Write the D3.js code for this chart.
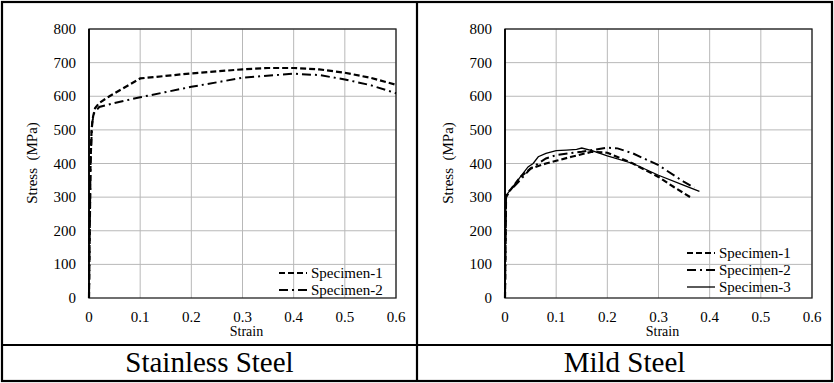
<!DOCTYPE html>
<html>
<head>
<meta charset="utf-8">
<script src="https://cdn.jsdelivr.net/npm/d3@7"></script>
<style>
  html, body { margin: 0; padding: 0; background: #fff; }
  svg { display: block; }
  svg text { font-family: "Liberation Serif", "Times New Roman", serif; }
</style>
</head>
<body>
<svg id="chart" width="834" height="383"></svg>
<script>
// ticks shared by both panels
const xTicks = [0, 0.1, 0.2, 0.3, 0.4, 0.5, 0.6];
const yTicks = [0, 100, 200, 300, 400, 500, 600, 700, 800];

// Stainless steel (strain, stress MPa)
const ssStrain1 = [0, 0.003, 0.005, 0.008, 0.012, 0.02, 0.04, 0.1, 0.2, 0.3, 0.35, 0.4, 0.45, 0.5, 0.55, 0.6];
const ssStress1 = [0, 400, 500, 540, 565, 580, 600, 653, 668, 680, 684, 684, 680, 670, 655, 634];
const ssStrain2 = [0, 0.003, 0.006, 0.01, 0.02, 0.05, 0.1, 0.2, 0.3, 0.4, 0.45, 0.5, 0.55, 0.6];
const ssStress2 = [0, 400, 520, 550, 568, 580, 597, 628, 655, 667, 663, 650, 633, 609];

// Mild steel
const msStrain1 = [0, 0.002, 0.01, 0.03, 0.05, 0.08, 0.1, 0.13, 0.17, 0.2, 0.25, 0.3, 0.33, 0.365];
const msStress1 = [0, 300, 320, 360, 385, 400, 408, 420, 435, 432, 400, 360, 330, 297];
const msStrain2 = [0, 0.002, 0.02, 0.05, 0.08, 0.1, 0.15, 0.2, 0.22, 0.25, 0.3, 0.35, 0.37];
const msStress2 = [0, 310, 335, 385, 415, 425, 435, 447, 445, 430, 395, 345, 328];
const msStrain3 = [0, 0.002, 0.01, 0.03, 0.045, 0.055, 0.065, 0.08, 0.1, 0.12, 0.14, 0.15, 0.17, 0.2, 0.25, 0.3, 0.35, 0.38];
const msStress3 = [0, 305, 320, 360, 390, 400, 420, 430, 438, 440, 442, 446, 438, 423, 400, 365, 335, 317];

const seriesNames = ['Specimen-1', 'Specimen-2', 'Specimen-3'];
const panelTitles = ['Stainless Steel', 'Mild Steel'];

const dashes = ['6,3', '9,4,2,4', null];
const widths = [2.2, 2, 1.3];

const zip = (xs, ys) => xs.map((x, i) => ({ x, y: ys[i] }));

const panels = [
  { title: panelTitles[0], left: 89, series: [zip(ssStrain1, ssStress1), zip(ssStrain2, ssStress2)], legendTop: 273, legendX: 279 },
  { title: panelTitles[1], left: 505, series: [zip(msStrain1, msStress1), zip(msStrain2, msStress2), zip(msStrain3, msStress3)], legendTop: 253, legendX: 687 }
];

const svg = d3.select('#chart');
const plotW = 307, plotTop = 29, plotBottom = 298;

panels.forEach((p, pi) => {
  const x = d3.scaleLinear().domain([0, 0.6]).range([p.left, p.left + plotW]);
  const y = d3.scaleLinear().domain([0, 800]).range([plotBottom, plotTop]);
  const g = svg.append('g');

  // grid
  g.append('g').selectAll('line').data(xTicks.slice(1)).join('line')
    .attr('x1', d => x(d)).attr('x2', d => x(d)).attr('y1', plotTop).attr('y2', plotBottom)
    .attr('stroke', '#b8b8b8').attr('stroke-width', 1);
  g.append('g').selectAll('line').data(yTicks.slice(1)).join('line')
    .attr('x1', x(0)).attr('x2', x(0.6)).attr('y1', d => y(d)).attr('y2', d => y(d))
    .attr('stroke', '#b8b8b8').attr('stroke-width', 1);

  // frame
  g.append('rect').attr('x', x(0)).attr('y', plotTop).attr('width', plotW).attr('height', plotBottom - plotTop)
    .attr('fill', 'none').attr('stroke', '#222').attr('stroke-width', 1.3);
  g.append('line').attr('x1', x(0)).attr('x2', x(0)).attr('y1', plotTop).attr('y2', plotBottom)
    .attr('stroke', '#000').attr('stroke-width', 1.8);

  // tick labels
  g.append('g').selectAll('text').data(yTicks).join('text')
    .attr('x', x(0) - 13).attr('y', d => y(d) + 5)
    .attr('text-anchor', 'end').attr('font-size', 15).text(d => d);
  g.append('g').selectAll('text').data(xTicks).join('text')
    .attr('x', d => x(d)).attr('y', 322)
    .attr('text-anchor', 'middle').attr('font-size', 15).text(d => d);

  g.append('text').attr('x', x(0.3) + 4).attr('y', 336)
    .attr('text-anchor', 'middle').attr('font-size', 14).text('Strain');
  g.append('text')
    .attr('transform', `translate(${p.left - 52},163) rotate(-90)`)
    .attr('text-anchor', 'middle').attr('font-size', 15)
    .attr('xml:space', 'preserve').style('white-space', 'pre')
    .text('Stress  (MPa)');

  // curves
  const line = d3.line().x(d => x(d.x)).y(d => y(d.y));
  p.series.forEach((s, i) => {
    g.append('path').datum(s).attr('d', line)
      .attr('fill', 'none').attr('stroke', '#000')
      .attr('stroke-width', widths[i])
      .attr('stroke-dasharray', dashes[i]);
  });

  // legend
  p.series.forEach((s, i) => {
    const ly = p.legendTop + i * 17;
    g.append('line').attr('x1', p.legendX).attr('x2', p.legendX + 28).attr('y1', ly).attr('y2', ly)
      .attr('stroke', '#000').attr('stroke-width', widths[i]).attr('stroke-dasharray', dashes[i]);
    g.append('text').attr('x', p.legendX + 32).attr('y', ly + 5).attr('font-size', 15).text(seriesNames[i]);
  });

  // panel title
  const cx = pi === 0 ? 209.5 : 624.5;
  svg.append('text').attr('x', cx).attr('y', 372).attr('text-anchor', 'middle')
    .attr('font-size', 29).text(p.title);
});

// table borders
const b = svg.append('g').attr('stroke', '#000').attr('stroke-width', 2.2).attr('fill', 'none');
b.append('rect').attr('x', 2).attr('y', 2).attr('width', 830).attr('height', 379);
b.append('line').attr('x1', 417).attr('x2', 417).attr('y1', 2).attr('y2', 381);
b.append('line').attr('x1', 2).attr('x2', 832).attr('y1', 345).attr('y2', 345);
</script>
</body>
</html>
